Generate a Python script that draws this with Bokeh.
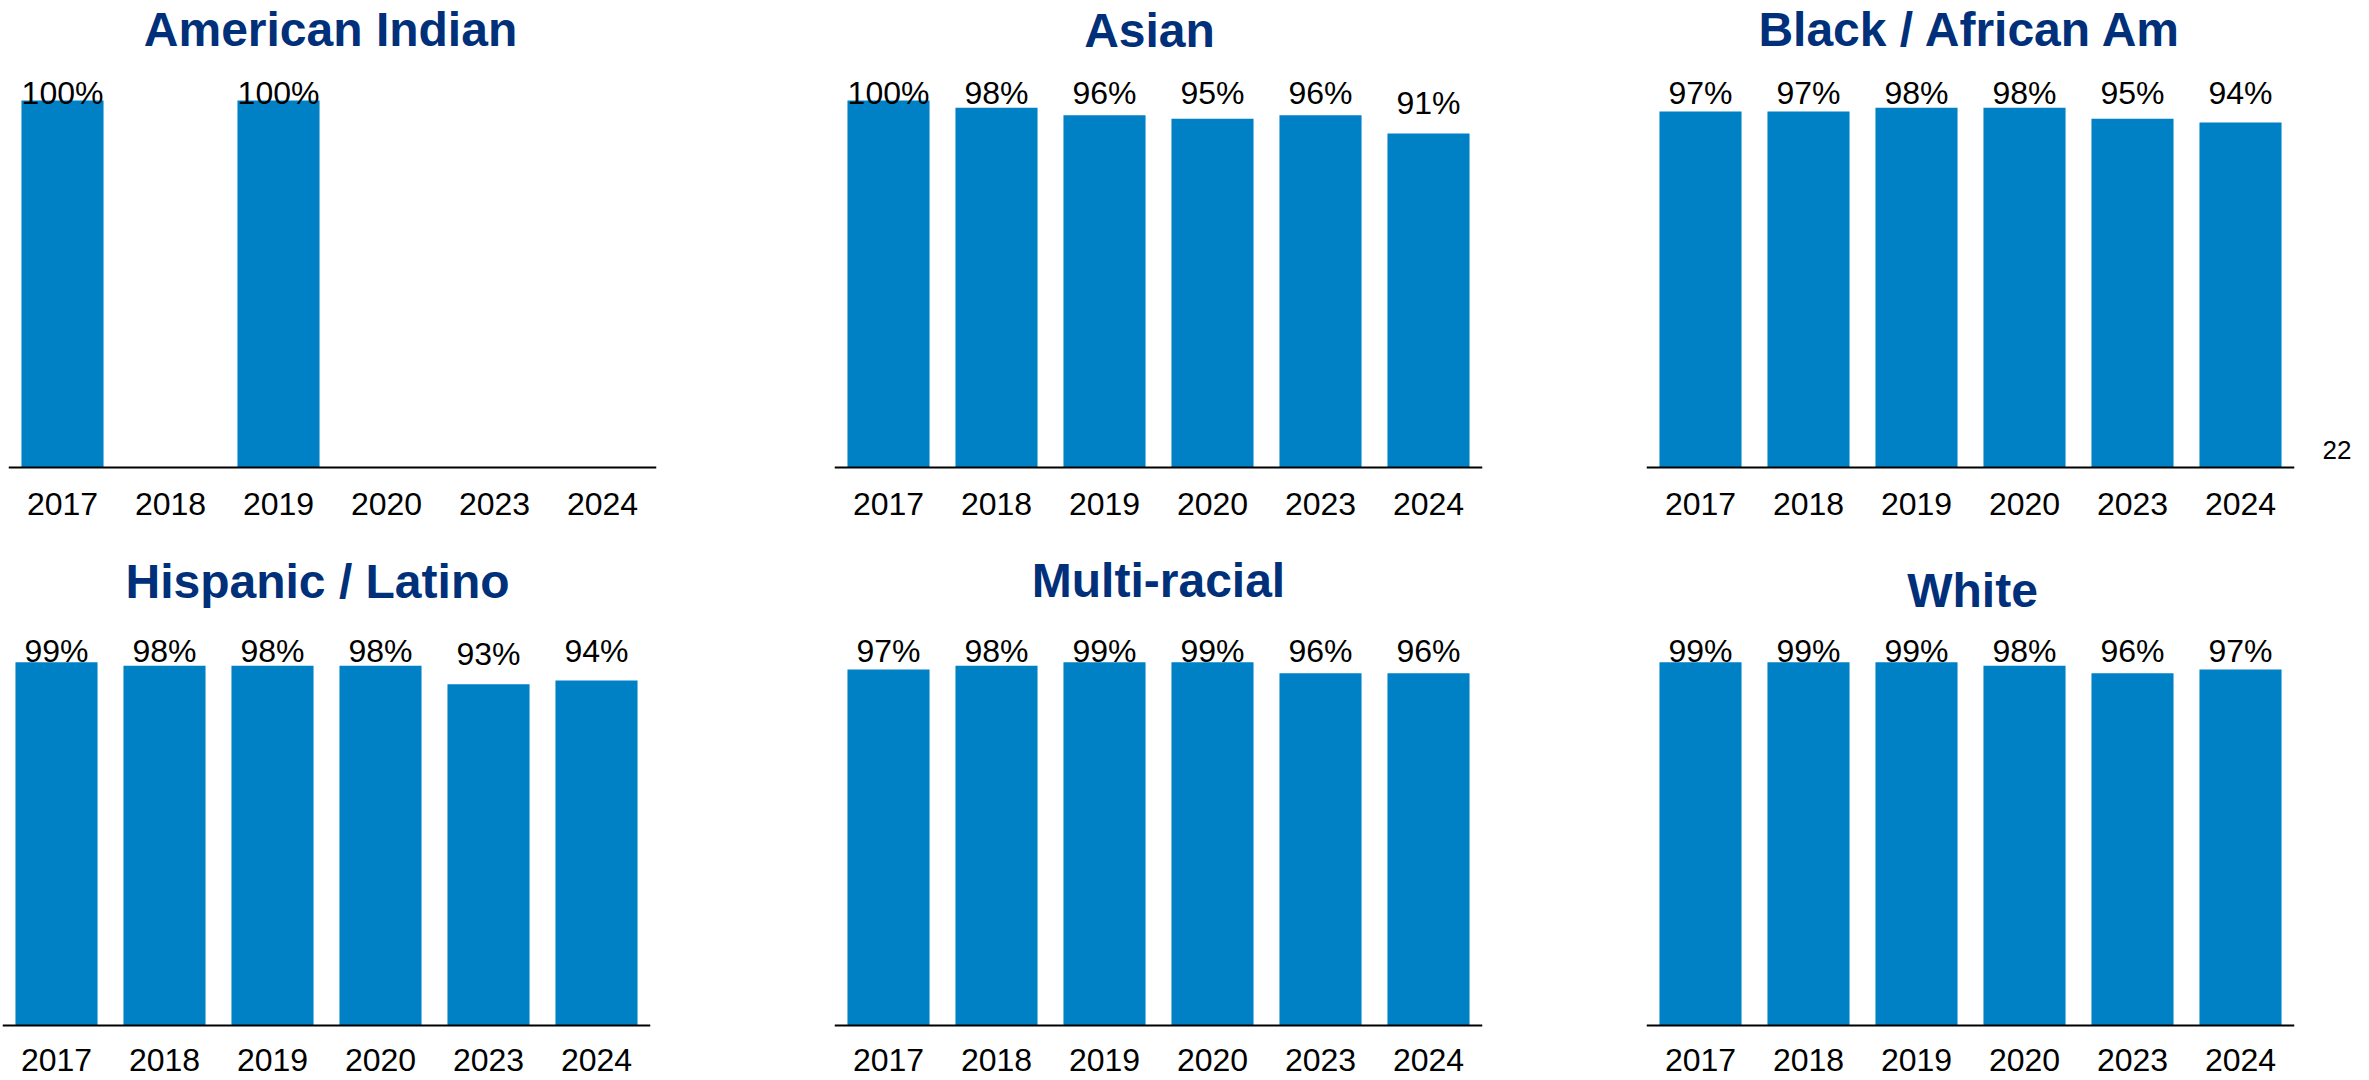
from bokeh.plotting import figure
from bokeh.layouts import column, row
from bokeh.models import Range1d, FactorRange, ColumnDataSource, Label
from bokeh.embed import file_html
from bokeh.resources import INLINE
from bokeh.core.properties import value
from bokeh.core.validation import silence
from bokeh.core.validation.warnings import MISSING_RENDERERS

silence(MISSING_RENDERERS, True)

# ---------------- data ----------------
years = ["2017", "2018", "2019", "2020", "2023", "2024"]

american_indian = [100, None, 100, None, None, None]
asian = [100, 98, 96, 95, 96, 91]
black_african_am = [97, 97, 98, 98, 95, 94]
hispanic_latino = [99, 98, 98, 98, 93, 94]
multi_racial = [97, 98, 99, 99, 96, 96]
white = [99, 99, 99, 98, 96, 97]

titles = ["American Indian", "Asian", "Black / African Am",
          "Hispanic / Latino", "Multi-racial", "White"]
series = [american_indian, asian, black_african_am,
          hispanic_latino, multi_racial, white]
page_number = "22"

# ---------------- style / layout ----------------
FONT = "Liberation Sans"
BAR = "#0081C6"
NAVY = "#00307A"
K = 3.67            # pixels per percentage point
FRAME_W = 648
ROW_H = [540, 540]
AXIS_FROM_TOP = [467, 485]
STANDOFF = [25, 23]
BORDERS = [(8, 89), (89, 78), (86, 11), (2, 95), (89, 78), (86, 11)]
# (horizontal shift px, title height above axis px) per panel
TITLE_POS = [(-2, 438), (-9, 437), (0, 438), (-9, 444), (0, 445), (2, 435)]
LABEL_PAD = 8.2     # value label above bar (percentage points)
LABEL_MAX = 102.1   # highest value-label position (percentage points)


def make_panel(i):
    r = i // 3
    h = ROW_H[r]
    top = AXIS_FROM_TOP[r]
    bl, br = BORDERS[i]
    vals = series[i]
    p = figure(x_range=FactorRange(*years),
               y_range=Range1d(-(h - top) / K, top / K),
               width=bl + FRAME_W + br, height=h,
               min_border_left=bl, min_border_right=br,
               min_border_top=0, min_border_bottom=0,
               output_backend="svg", toolbar_location=None, tools="",
               y_axis_location=None)
    p.outline_line_color = None
    p.xgrid.visible = False
    p.ygrid.visible = False
    p.background_fill_color = "white"
    p.border_fill_color = "white"

    xs = [y for y, v in zip(years, vals) if v is not None]
    vs = [v for v in vals if v is not None]
    src = ColumnDataSource(dict(
        x=xs, top=vs,
        label=[f"{v}%" for v in vs],
        ly=[min(v + LABEL_PAD, LABEL_MAX) for v in vs]))
    p.vbar(x="x", top="top", bottom=0, width=0.76, source=src,
           fill_color=BAR, line_color=None)
    p.text(x="x", y="ly", text="label", source=src,
           text_align="center", text_baseline="alphabetic",
           text_font=value(FONT), text_font_size="32px", text_color="black")

    ax = p.xaxis[0]
    ax.fixed_location = 0
    ax.axis_line_color = "black"
    ax.axis_line_width = 2
    ax.major_tick_line_color = None
    ax.major_tick_out = 0
    ax.major_tick_in = 0
    ax.minor_tick_line_color = None
    ax.major_label_standoff = STANDOFF[r]
    ax.major_label_text_font = FONT
    ax.major_label_text_font_size = "32px"
    ax.major_label_text_color = "black"

    dx, th = TITLE_POS[i]
    p.add_layout(Label(x=len(years) / 2, y=th / K, x_offset=dx,
                       text=titles[i], text_align="center",
                       text_baseline="alphabetic", text_font=FONT,
                       text_font_size="48px", text_font_style="bold",
                       text_color=NAVY))
    return p


panels = [make_panel(i) for i in range(6)]

# page number at the right edge of the top row
pn = figure(width=55, height=ROW_H[0], x_range=Range1d(0, 1), y_range=Range1d(0, 1),
            min_border=0, output_backend="svg", toolbar_location=None, tools="",
            x_axis_location=None, y_axis_location=None)
pn.outline_line_color = None
pn.xgrid.visible = False
pn.ygrid.visible = False
pn.add_layout(Label(x=17, y=91, x_units="screen", y_units="screen",
                    text=page_number, text_align="left", text_baseline="alphabetic",
                    text_font=FONT, text_font_size="26px", text_color="black"))

layout = column(row(*panels[:3], pn), row(*panels[3:]))

open("out.html", "w").write(file_html(layout, INLINE))
